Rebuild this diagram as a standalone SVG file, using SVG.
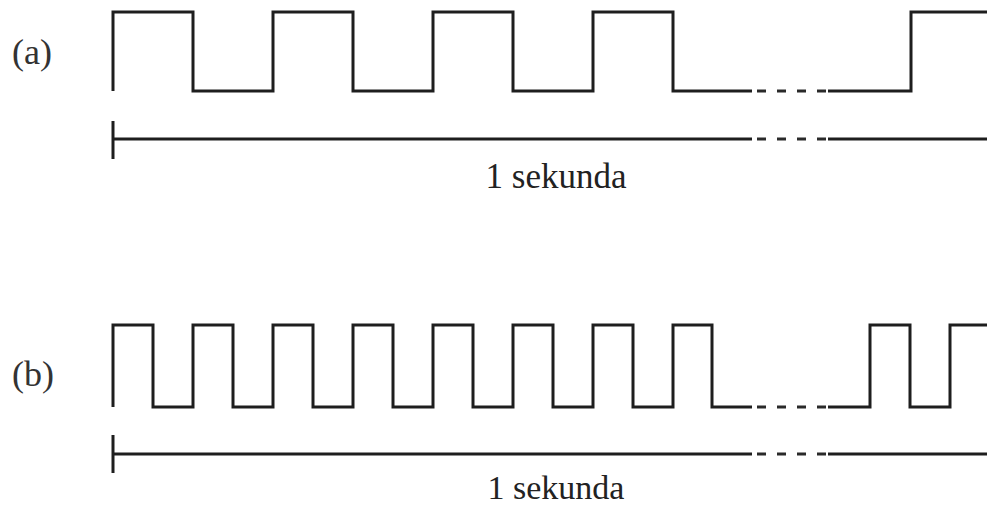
<svg xmlns="http://www.w3.org/2000/svg" width="987" height="508" viewBox="0 0 987 508">
<style>
.w{fill:none;stroke:#1e1e1e;stroke-width:3;stroke-linejoin:miter;stroke-linecap:butt}
.d{fill:none;stroke:#2a2a2a;stroke-width:3;stroke-dasharray:9 11}
.t{font-family:"Liberation Serif","Times New Roman",serif;fill:#222}
.l{font-family:"Liberation Serif","Times New Roman",serif;fill:#333;font-size:36px}
</style>
<rect width="987" height="508" fill="#fff"/>
<g id="panel-a">
<text class="l" x="12" y="64">(a)</text>
<path class="w" d="M113,91 V12 H193 V91 H273 V12 H353 V91 H433 V12 H513 V91 H593 V12 H673 V91 H752"/>
<path class="w" d="M828,91 H911 V12 H987"/>
<path class="d" d="M757,91 H826"/>
<path class="w" d="M113,139 H752 M828,139 H987 M113,121 V159"/>
<path class="d" d="M757,139 H826"/>
<text class="t" x="556" y="188" font-size="35" text-anchor="middle">1 sekunda</text>
</g>
<g id="panel-b">
<text class="l" x="12" y="386">(b)</text>
<path class="w" d="M113,407 V325 H153 V407 H193 V325 H233 V407 H273 V325 H313 V407 H353 V325 H393 V407 H433 V325 H473 V407 H513 V325 H553 V407 H593 V325 H633 V407 H673 V325 H712 V407 H752"/>
<path class="w" d="M828,407 H870 V325 H910 V407 H950 V325 H987"/>
<path class="d" d="M757,407 H826"/>
<path class="w" d="M113,454 H752 M828,454 H987 M113,435 V473"/>
<path class="d" d="M757,454 H826"/>
<text class="t" x="556" y="499" font-size="34" text-anchor="middle">1 sekunda</text>
</g>
</svg>
